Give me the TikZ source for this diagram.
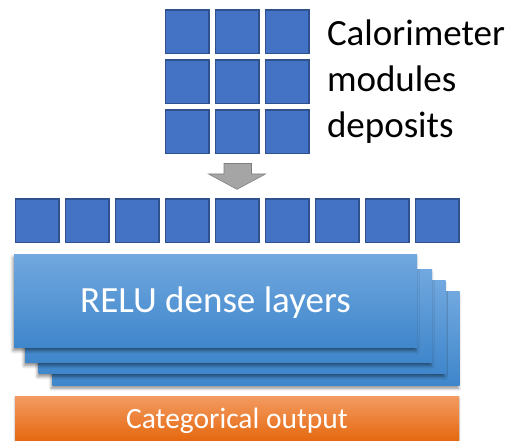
\documentclass[tikz,border=0pt]{standalone}
\usepackage{fontspec}
\setmainfont{Carlito}
\usetikzlibrary{positioning,calc,shadows.blur}
\definecolor{cellblue}{HTML}{4472C4}
\definecolor{cellline}{HTML}{2F528F}
\definecolor{layertop}{HTML}{71A8DF}
\definecolor{layerbot}{HTML}{3F86CB}
\definecolor{outtop}{HTML}{F39A60}
\definecolor{outbot}{HTML}{E5680E}
\definecolor{arrowgray}{HTML}{A5A5A5}
\definecolor{arrowline}{HTML}{7F7F7F}
\tikzset{font=\fontsize{37}{46}\selectfont}

\begin{document}
\begin{tikzpicture}[x=1pt, y=-1pt]
	\useasboundingbox (0,0) rectangle (515,441);
	\begin{scope}
		\tikzstyle{every node}=[inner sep=0pt, outer sep=0pt]
		\tikzstyle{cell}=[draw=cellline, line width=1.5pt, fill=cellblue, minimum size=43.5pt]
		\tikzstyle{layer}=[top color=layertop, bottom color=layerbot, minimum width=407pt, minimum height=93.5pt,
			blur shadow={shadow xshift=-1pt, shadow yshift=-3pt, shadow blur radius=3pt, shadow opacity=45}]

		% calorimeter deposits
		\foreach \i in {0,1,2}
			\foreach \j in {0,1,2}
				\node[cell] (g\i\j) at (187+50*\i, 32+50*\j) {};
		\node[anchor=base west, align=left] (cal) at (327,138) {Calorimeter\\modules\\deposits};

		\draw[fill=arrowgray, draw=arrowline, line width=0.6pt] (224,163.5) -- (251.5,163.5) -- (251.5,174)
			-- (265.5,174) -- (237,189.3) -- (208.5,174) -- (224,174) -- cycle;

		% flattened input
		\foreach \i in {0,...,8}
			\node[cell] (r\i) at (37+50*\i, 221) {};

		% dense layers, back to front
		\node[layer] (l4) at (256,338.5) {};
		\node[layer] (l3) at (242,327) {};
		\node[layer] (l2) at (228.5,316) {};
		\node[layer, minimum width=403pt, text=white, text height=23.4pt, text depth=0pt] (l1) at (215.5,301) {RELU dense layers};

		\node[top color=outtop, bottom color=outbot, minimum width=444pt, minimum height=44pt, text=white,
			font=\fontsize{29.5}{35}\selectfont, text height=18.6pt, text depth=0pt,
			blur shadow={shadow xshift=0pt, shadow yshift=-1pt, shadow blur radius=2pt, shadow opacity=35}] (out) at (237,419) {Categorical output};
	\end{scope}
\end{tikzpicture}
\end{document}
